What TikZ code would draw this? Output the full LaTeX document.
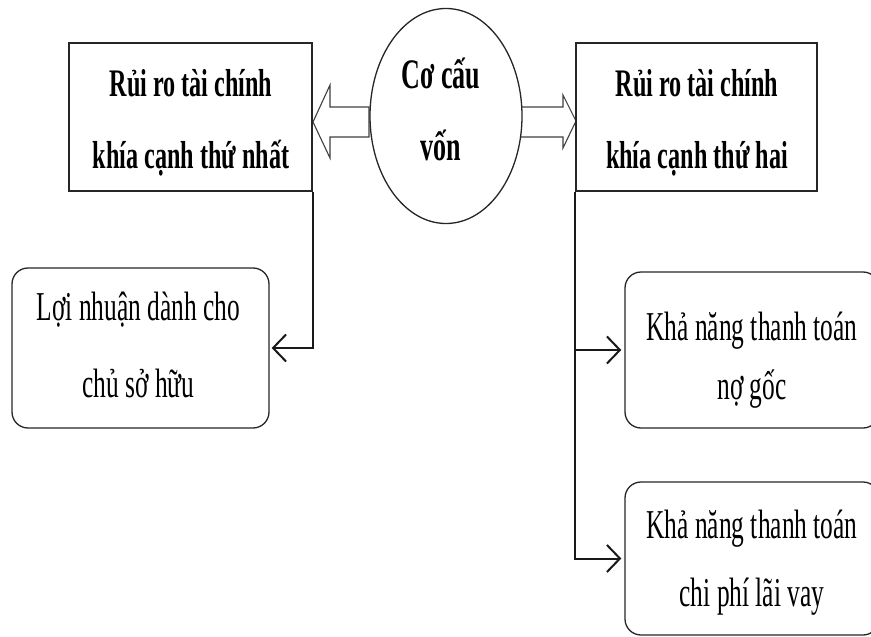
\documentclass[tikz,border=0pt]{standalone}
\usepackage{fontspec}
\setmainfont{Liberation Serif}[FakeStretch=0.62]
\usetikzlibrary{shapes.geometric,arrows.meta}
\tikzset{
  frame/.style={draw=black!85, line width=1.3pt, fill=white, inner sep=0pt},
  sqbox/.style={frame},
  rbox/.style={frame, rounded corners=16pt},
  hub/.style={frame, ellipse},
  blockarrow/.style={draw=black!75, line width=1.1pt, fill=white, line join=miter},
  conn/.style={draw=black!90, line width=2pt, -{Straight Barb[length=13pt,width=27pt]}},
  trunk/.style={draw=black!90, line width=2pt},
  headtxt/.style={align=center, inner sep=0pt, font=\fontsize{39}{72}\selectfont\bfseries},
  bodytxt/.style={align=center, inner sep=0pt, font=\fontsize{41}{#1}\selectfont},
}
\begin{document}
\begin{tikzpicture}[x=1pt,y=-1pt]
\path[use as bounding box] (0,0) rectangle (871,637);
\clip (0,0) rectangle (871,637);

% block arrows leaving the central ellipse
\draw[blockarrow] (313,122) -- (330,85) -- (330,107) -- (369,107) -- (369,137)
  -- (330,137) -- (330,158) -- cycle;
\draw[blockarrow] (520,107) -- (563,107) -- (563,95) -- (576,121) -- (563,148)
  -- (563,137) -- (520,137) -- cycle;

% boxes
\node[sqbox, minimum width=243pt, minimum height=148pt] (L1) at (190.5,117) {};
\node[sqbox, minimum width=241pt, minimum height=148pt] (R1) at (696.5,117) {};
\node[hub, minimum width=152pt, minimum height=215pt] (C) at (446,116) {};
\node[rbox, minimum width=257pt, minimum height=160pt] (LB) at (140.5,348) {};
\node[rbox, minimum width=254pt, minimum height=156pt] (RB1) at (752,350) {};
\node[rbox, minimum width=254pt, minimum height=153pt] (RB2) at (752,558.5) {};

% texts
\node[headtxt] (L1t) at (191,117.6) {\strut Rủi ro tài chính\\\strut khía cạnh thứ nhất};
\node[headtxt] (R1t) at (697,117.6) {\strut Rủi ro tài chính\\\strut khía cạnh thứ hai};
\node[headtxt, font=\fontsize{42}{72}\selectfont\bfseries] (Ct) at (441,109.6) {\strut Cơ cấu\\\strut vốn};
\node[bodytxt=77] (LBt) at (138.5,344) {\strut Lợi nhuận dành cho\\\strut chủ sở hữu};
\node[bodytxt=59] (RB1t) at (752,357.7) {\strut Khả năng thanh toán\\\strut nợ gốc};
\node[bodytxt=68] (RB2t) at (752,558.4) {\strut Khả năng thanh toán\\\strut chi phí lãi vay};

% connectors
\draw[conn, shorten >=2pt] (L1.south east) |- (LB.east);
\draw[trunk] (R1.south west) -- (R1.south west |- RB2.west);
\draw[conn, shorten >=3pt] (R1.south west) |- (RB1.west);
\draw[conn, shorten >=3pt] (R1.south west) |- (RB2.west);
\end{tikzpicture}
\end{document}
